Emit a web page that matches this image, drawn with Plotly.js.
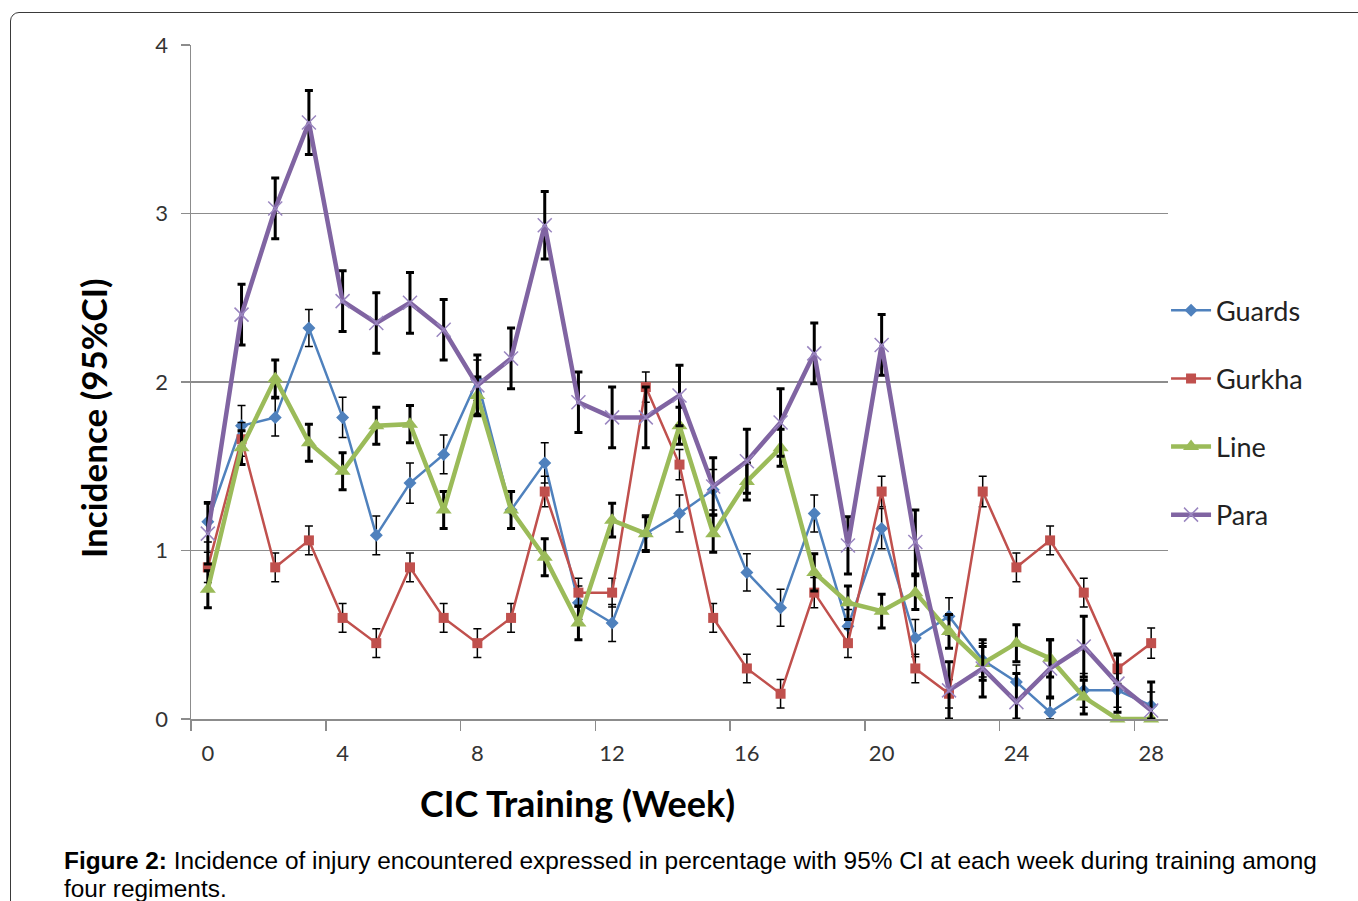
<!DOCTYPE html>
<html>
<head>
<meta charset="utf-8">
<script src="https://cdn.plot.ly/plotly-3.0.1.min.js"></script>
<style>
  html, body { margin: 0; padding: 0; background: #fff; overflow: hidden; }
  #frame { position: absolute; left: 10px; top: 12px; width: 1380px; height: 920px;
           border: 1.5px solid #3a3a3a; border-radius: 9px; box-sizing: border-box; pointer-events: none; }
  #chart { position: absolute; left: 0; top: 0; width: 1358px; height: 901px; }
</style>
</head>
<body>
<div id="chart"></div>
<div id="frame"></div>
<script>
const weeks = [0,1,2,3,4,5,6,7,8,9,10,11,12,13,14,15,16,17,18,19,20,21,22,23,24,25,26,27,28];
const tickWeeks = [0,4,8,12,16,20,24,28];

const guards    = [1.17,1.74,1.79,2.32,1.79,1.09,1.40,1.57,2.01,1.24,1.52,0.69,0.57,1.10,1.22,1.36,0.87,0.66,1.22,0.55,1.13,0.48,0.61,0.35,0.22,0.04,0.17,0.17,0.08];
const guardsErr = [0.12,0.12,0.11,0.11,0.12,0.115,0.12,0.115,0.12,0.11,0.12,0.10,0.11,0.11,0.11,0.12,0.11,0.11,0.11,0.10,0.12,0.11,0.11,0.10,0.10,0.08,0.10,0.10,0.08];

const gurkha    = [0.90,1.66,0.90,1.06,0.60,0.45,0.90,0.60,0.45,0.60,1.35,0.75,0.75,1.97,1.51,0.60,0.30,0.15,0.75,0.45,1.35,0.30,0.15,1.35,0.90,1.06,0.75,0.30,0.45];
const gurkhaErr = [0.09,0.10,0.085,0.085,0.085,0.085,0.085,0.085,0.085,0.085,0.09,0.085,0.085,0.09,0.09,0.085,0.085,0.085,0.09,0.085,0.09,0.085,0.085,0.09,0.085,0.085,0.085,0.09,0.09];

const lineReg    = [0.77,1.61,2.02,1.64,1.47,1.74,1.75,1.24,1.92,1.24,0.96,0.57,1.18,1.10,1.74,1.10,1.41,1.61,0.87,0.69,0.64,0.75,0.52,0.33,0.45,0.36,0.13,0.00,0.00];
const lineRegErr = [0.11,0.10,0.11,0.11,0.11,0.11,0.11,0.11,0.11,0.11,0.11,0.10,0.10,0.10,0.11,0.11,0.11,0.11,0.11,0.10,0.10,0.10,0.10,0.10,0.11,0.11,0.10,0.00,0.00];

const para    = [1.10,2.40,3.03,3.54,2.48,2.35,2.47,2.31,1.98,2.14,2.93,1.88,1.79,1.79,1.92,1.38,1.53,1.76,2.17,1.03,2.22,1.05,0.17,0.30,0.10,0.30,0.43,0.21,0.05];
const paraErr = [0.18,0.18,0.18,0.19,0.18,0.18,0.18,0.18,0.18,0.18,0.20,0.18,0.18,0.18,0.18,0.17,0.19,0.20,0.18,0.17,0.18,0.19,0.17,0.17,0.17,0.17,0.18,0.17,0.17];

const seriesNames = ['Guards','Gurkha','Line','Para'];
const seriesColors = ['#4F81BD','#C0504D','#9BBB59','#8064A2'];

function clampMinus(vals, errs) { return errs.map((e, i) => Math.min(e, vals[i])); }

function trace(name, y, err, color, lw, symbol, msize, mline, ethick, group) {
  return {
    type: 'scatter', mode: 'lines+markers', name: name, x: weeks, y: y,
    legendgroup: group, cliponaxis: false,
    line: { color: color, width: lw },
    marker: { symbol: symbol, size: msize, color: color, line: mline },
    error_y: { type: 'data', symmetric: false, array: err, arrayminus: clampMinus(y, err),
               color: '#000000', thickness: ethick, width: 4 }
  };
}

const data = [
  trace(seriesNames[0], guards, guardsErr, seriesColors[0], 2.5, 'diamond', 10, {width: 0}, 1.5, 'g1'),
  trace(seriesNames[1], gurkha, gurkhaErr, seriesColors[1], 2.5, 'square', 10, {width: 0}, 1.5, 'g2'),
  trace(seriesNames[2], lineReg, lineRegErr, seriesColors[2], 4.5, 'triangle-up', 14, {width: 0}, 3, 'g3'),
  trace(seriesNames[3], para, paraErr, seriesColors[3], 4.5, 'x-thin', 14, {width: 1.5, color: '#9a86c0'}, 3, 'g4')
];

const captionLine1 = '<b>Figure 2:</b> Incidence of injury encountered expressed in percentage with 95% CI at each week during training among';
const captionLine2 = 'four regiments.';

const layout = {
  width: 1358, height: 901,
  margin: { l: 191, r: 190, t: 45, b: 182 },
  paper_bgcolor: '#ffffff', plot_bgcolor: '#ffffff',
  font: { family: 'Lato, "Open Sans", sans-serif', color: '#333', size: 22 },
  showlegend: true,
  legend: {
    x: 0.998, xanchor: 'left', y: 0.642, yanchor: 'top',
    font: { family: 'Lato, sans-serif', size: 27, color: '#222' },
    tracegroupgap: 30, itemwidth: 40, bgcolor: 'rgba(0,0,0,0)'
  },
  xaxis: {
    range: [-0.5, 28.5], showgrid: false, zeroline: false,
    showline: true, linecolor: '#8c8c8c', linewidth: 1.5,
    tickmode: 'array', tickvals: tickWeeks, ticktext: tickWeeks.map(String),
    ticks: '', ticklabelstandoff: 14,
    tickfont: { family: 'Lato, sans-serif', size: 22, color: '#333' },
    minor: { tickmode: 'linear', tick0: -0.5, dtick: 4, ticks: 'outside', ticklen: 10, tickwidth: 1.5, tickcolor: '#8c8c8c', showgrid: false }
  },
  yaxis: {
    range: [0, 4], tickmode: 'linear', tick0: 0, dtick: 1,
    showgrid: true, gridcolor: '#8c8c8c', gridwidth: 1.5, zeroline: false,
    showline: true, linecolor: '#8c8c8c', linewidth: 1.5,
    ticks: 'outside', ticklen: 9, tickwidth: 1.5, tickcolor: '#8c8c8c', ticklabelstandoff: 8,
    tickfont: { family: 'Lato, sans-serif', size: 22, color: '#333' }
  },
  annotations: [
    { text: '<b>CIC Training (Week)</b>', xref: 'paper', yref: 'paper',
      x: (577 - 191) / 977, y: (719 - 803) / 674, xanchor: 'center', yanchor: 'middle', showarrow: false,
      font: { family: 'Lato, sans-serif', size: 36, color: '#000' } },
    { text: '<b>Incidence (95%CI)</b>', xref: 'paper', yref: 'paper', textangle: -90,
      x: (93 - 191) / 977, y: (719 - 418) / 674, xanchor: 'center', yanchor: 'middle', showarrow: false,
      font: { family: 'Lato, sans-serif', size: 35, color: '#000' } },
    { text: captionLine1, xref: 'paper', yref: 'paper', x: (62 - 191) / 977, y: (719 - 860) / 674,
      xanchor: 'left', yanchor: 'middle', align: 'left', showarrow: false,
      font: { family: '"Liberation Sans", Arial, sans-serif', size: 24.4, color: '#000' } },
    { text: captionLine2, xref: 'paper', yref: 'paper', x: (62 - 191) / 977, y: (719 - 888) / 674,
      xanchor: 'left', yanchor: 'middle', align: 'left', showarrow: false,
      font: { family: '"Liberation Sans", Arial, sans-serif', size: 24.4, color: '#000' } }
  ]
};

Plotly.newPlot('chart', data, layout, { displayModeBar: false, staticPlot: true });
</script>
</body>
</html>
